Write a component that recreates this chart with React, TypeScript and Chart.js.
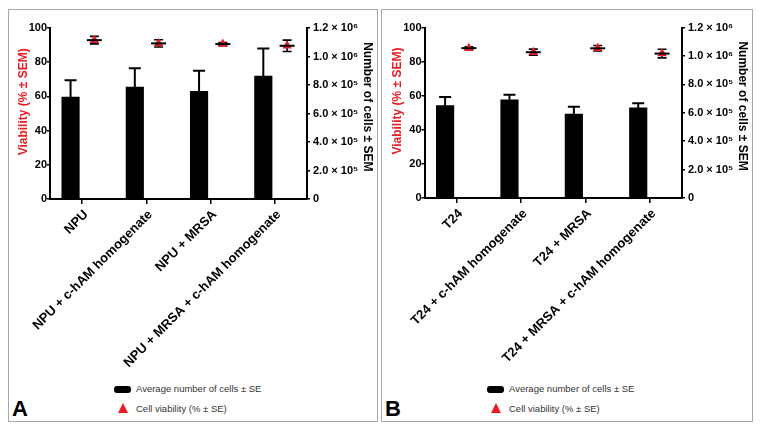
import React, { useEffect, useRef } from 'react';
import { Chart, registerables } from 'chart.js';

Chart.register(...registerables);

const categoriesA = ['NPU', 'NPU + c-hAM homogenate', 'NPU + MRSA', 'NPU + MRSA + c-hAM homogenate'];
const cellsA = [715000, 786000, 756000, 862000];
const cellsSeA = [118000, 132000, 144000, 194000];
const viabilityA = [92.9, 91.0, 90.6, 89.6];
const viabilitySeA = [2.2, 2.1, 0.9, 3.3];

const categoriesB = ['T24', 'T24 + c-hAM homogenate', 'T24 + MRSA', 'T24 + MRSA + c-hAM homogenate'];
const cellsB = [650000, 691000, 590000, 634000];
const cellsSeB = [61000, 36000, 52000, 32000];
const viabilityB = [87.9, 85.5, 87.8, 84.7];
const viabilitySeB = [0.8, 1.8, 1.6, 2.5];

const viabilityMax = 100;
const viabilityStep = 20;
const cellMax = 1200000;
const cellStep = 200000;
const cellTickLabels = ['0', '2.0 × 10⁵', '4.0 × 10⁵', '6.0 × 10⁵', '8.0 × 10⁵', '1.0 × 10⁶', '1.2 × 10⁶'];

const leftTitle = 'Viability (% ± SEM)';
const rightTitle = 'Number of cells ± SEM';
const legendBar = 'Average number of cells ± SE';
const legendTri = 'Cell viability (% ± SE)';

const FONT = 'Arial, "Liberation Sans", Helvetica, sans-serif';
const RED = '#ec1c24';
const BAR_OFFSET = -0.18;
const TRI_OFFSET = 0.19;

const errorBarPlugin = {
  id: 'errorBars',
  beforeDatasetsDraw(chart: any) {
    const ctx = chart.ctx;
    const y = chart.scales.y;
    const ds = chart.data.datasets[1];
    const meta = chart.getDatasetMeta(1);
    ctx.save();
    ctx.strokeStyle = '#000';
    ctx.lineWidth = 1.6;
    meta.data.forEach((pt: any, i: number) => {
      const v = ds.data[i].y;
      const se = ds.errors[i];
      const hi = y.getPixelForValue(v + se);
      const lo = y.getPixelForValue(v - se);
      ctx.beginPath();
      ctx.moveTo(pt.x, lo);
      ctx.lineTo(pt.x, hi);
      ctx.moveTo(pt.x - 4.5, hi);
      ctx.lineTo(pt.x + 4.5, hi);
      ctx.moveTo(pt.x - 4.5, lo);
      ctx.lineTo(pt.x + 4.5, lo);
      ctx.stroke();
    });
    ctx.restore();
  },
  afterDatasetsDraw(chart: any) {
    const ctx = chart.ctx;
    const y = chart.scales.y;
    const y2 = chart.scales.y2;
    ctx.save();
    ctx.strokeStyle = '#000';
    const bds = chart.data.datasets[0];
    const bmeta = chart.getDatasetMeta(0);
    ctx.lineWidth = 2;
    bmeta.data.forEach((bar: any, i: number) => {
      const v = bds.data[i].y;
      const se = bds.errors[i];
      const top = y2.getPixelForValue(v);
      const hi = y2.getPixelForValue(v + se);
      ctx.beginPath();
      ctx.moveTo(bar.x, top);
      ctx.lineTo(bar.x, hi);
      ctx.moveTo(bar.x - 6, hi);
      ctx.lineTo(bar.x + 6, hi);
      ctx.stroke();
    });
    const ds = chart.data.datasets[1];
    const meta = chart.getDatasetMeta(1);
    ctx.lineWidth = 2;
    meta.data.forEach((pt: any, i: number) => {
      const m = y.getPixelForValue(ds.data[i].y);
      ctx.beginPath();
      ctx.moveTo(pt.x - 7.5, m);
      ctx.lineTo(pt.x + 7.5, m);
      ctx.stroke();
    });
    ctx.restore();
  },
};

type Panel = {
  letter: string;
  left: number;
  top: number;
  width: number;
  height: number;
  canvasHeight: number;
  padTop: number;
  yWidth: number;
  y2Width: number;
  xHeight: number;
  leftTitlePad: number;
  rightTitlePad: number;
  categories: string[];
  cells: number[];
  cellsSe: number[];
  viability: number[];
  viabilitySe: number[];
};

const panels: Panel[] = [
  {
    letter: 'A', left: 8, top: 9, width: 370, height: 413, canvasHeight: 360,
    padTop: 18, yWidth: 42, y2Width: 70, xHeight: 171, leftTitlePad: 8.8, rightTitlePad: 2.8,
    categories: categoriesA, cells: cellsA, cellsSe: cellsSeA, viability: viabilityA, viabilitySe: viabilitySeA,
  },
  {
    letter: 'B', left: 381, top: 9, width: 372, height: 413, canvasHeight: 360,
    padTop: 17.5, yWidth: 43.5, y2Width: 70, xHeight: 172, leftTitlePad: 9, rightTitlePad: 2,
    categories: categoriesB, cells: cellsB, cellsSe: cellsSeB, viability: viabilityB, viabilitySe: viabilitySeB,
  },
];

function PanelChart({ p }: { p: Panel }) {
  const ref = useRef<HTMLCanvasElement>(null);
  useEffect(() => {
    if (!ref.current) return;
    const tickFont = { family: FONT, size: 11, weight: 'bold' as const };
    const chart = new Chart(ref.current, {
      type: 'bar',
      data: {
        labels: p.categories,
        datasets: [
          {
            type: 'bar',
            data: p.cells.map((v, i) => ({ x: i + BAR_OFFSET, y: v })),
            errors: p.cellsSe,
            yAxisID: 'y2',
            xAxisID: 'x2',
            backgroundColor: '#000',
            borderWidth: 0,
            barThickness: 17.5,
            grouped: false,
            order: 2,
          } as any,
          {
            type: 'line',
            data: p.viability.map((v, i) => ({ x: i + TRI_OFFSET, y: v })),
            errors: p.viabilitySe,
            xAxisID: 'x2',
            yAxisID: 'y',
            showLine: false,
            pointStyle: 'triangle',
            pointRadius: 5.5,
            pointBackgroundColor: RED,
            pointBorderColor: RED,
            pointBorderWidth: 0,
            order: 1,
          } as any,
        ],
      },
      options: {
        animation: false,
        responsive: false,
        layout: { padding: { top: p.padTop, left: 0, right: 0, bottom: 0 } },
        plugins: { legend: { display: false }, tooltip: { enabled: false }, title: { display: false } },
        scales: {
          x: {
            type: 'category',
            offset: true,
            grid: { offset: false, drawOnChartArea: false, drawTicks: true, tickLength: 5, color: '#000', lineWidth: 1.5 },
            border: { display: true, color: '#000', width: 2 },
            ticks: {
              color: '#000',
              font: { family: FONT, size: 13, weight: 'bold' },
              minRotation: 45,
              maxRotation: 45,
              autoSkip: false,
              padding: 3,
              labelOffset: 4,
            },
            afterFit: (s: any) => { s.height = p.xHeight; },
          },
          x2: {
            type: 'linear',
            display: false,
            min: -0.5,
            max: p.categories.length - 0.5,
            offset: false,
            grid: { offset: false },
          },
          y: {
            type: 'linear',
            position: 'left',
            min: 0,
            max: viabilityMax,
            grid: { drawOnChartArea: false, drawTicks: true, tickLength: 3, color: '#000', lineWidth: 1.5 },
            border: { display: true, color: '#000', width: 2 },
            ticks: { stepSize: viabilityStep, color: '#000', font: tickFont, padding: 0 },
            title: {
              display: true,
              text: '\u00a0\u00a0\u00a0\u00a0\u00a0\u00a0\u00a0' + leftTitle,
              color: RED,
              font: { family: FONT, size: 12, weight: 'bold' },
              padding: { top: p.leftTitlePad, bottom: 0 },
            },
            afterFit: (s: any) => { s.width = p.yWidth; },
          },
          y2: {
            type: 'linear',
            position: 'right',
            min: 0,
            max: cellMax,
            grid: { drawOnChartArea: false, drawTicks: true, tickLength: 3, color: '#000', lineWidth: 1.5 },
            border: { display: true, color: '#000', width: 2 },
            ticks: {
              stepSize: cellStep,
              color: '#000',
              font: tickFont,
              padding: 3,
              callback: (_v: any, i: number) => cellTickLabels[i],
            },
            title: {
              display: true,
              text: rightTitle + '\u00a0\u00a0\u00a0\u00a0',
              color: '#000',
              font: { family: FONT, size: 12, weight: 'bold' },
              padding: { top: p.rightTitlePad, bottom: 0 },
            },
            afterFit: (s: any) => { s.width = p.y2Width; },
          },
        },
      } as any,
      plugins: [errorBarPlugin],
    });
    return () => chart.destroy();
  }, [p]);

  const cw = p.width - 1;
  return (
    <div
      style={{
        position: 'absolute',
        left: p.left,
        top: p.top,
        width: p.width,
        height: p.height,
        boxSizing: 'border-box',
        border: '1px solid #a8a8a8',
        background: '#fff',
      }}
    >
      <canvas
        ref={ref}
        width={cw}
        height={p.canvasHeight}
        style={{ position: 'absolute', left: -1, top: 0, width: cw, height: p.canvasHeight }}
      />
      <div style={{ position: 'absolute', left: 105, top: 376, width: 17, height: 7, background: '#000', borderRadius: 3 }} />
      <div
        style={{
          position: 'absolute', left: 127, top: 373, fontFamily: FONT, fontSize: 9.5,
          lineHeight: '12px', color: '#333', whiteSpace: 'nowrap',
        }}
      >
        {legendBar}
      </div>
      <div
        style={{
          position: 'absolute', left: 109, top: 393, width: 0, height: 0,
          borderLeft: '5px solid transparent', borderRight: '5px solid transparent', borderBottom: '10px solid ' + RED,
        }}
      />
      <div
        style={{
          position: 'absolute', left: 127, top: 393, fontFamily: FONT, fontSize: 9.5,
          lineHeight: '12px', color: '#333', whiteSpace: 'nowrap',
        }}
      >
        {legendTri}
      </div>
      <div
        style={{
          position: 'absolute', left: 3, top: 388, fontFamily: FONT, fontSize: 22,
          fontWeight: 'bold', lineHeight: '22px', color: '#000',
        }}
      >
        {p.letter}
      </div>
    </div>
  );
}

export default function App() {
  return (
    <div style={{ position: 'absolute', left: 0, top: 0, width: 761, height: 431, background: '#fff' }}>
      {panels.map((p) => (
        <PanelChart key={p.letter} p={p} />
      ))}
    </div>
  );
}
